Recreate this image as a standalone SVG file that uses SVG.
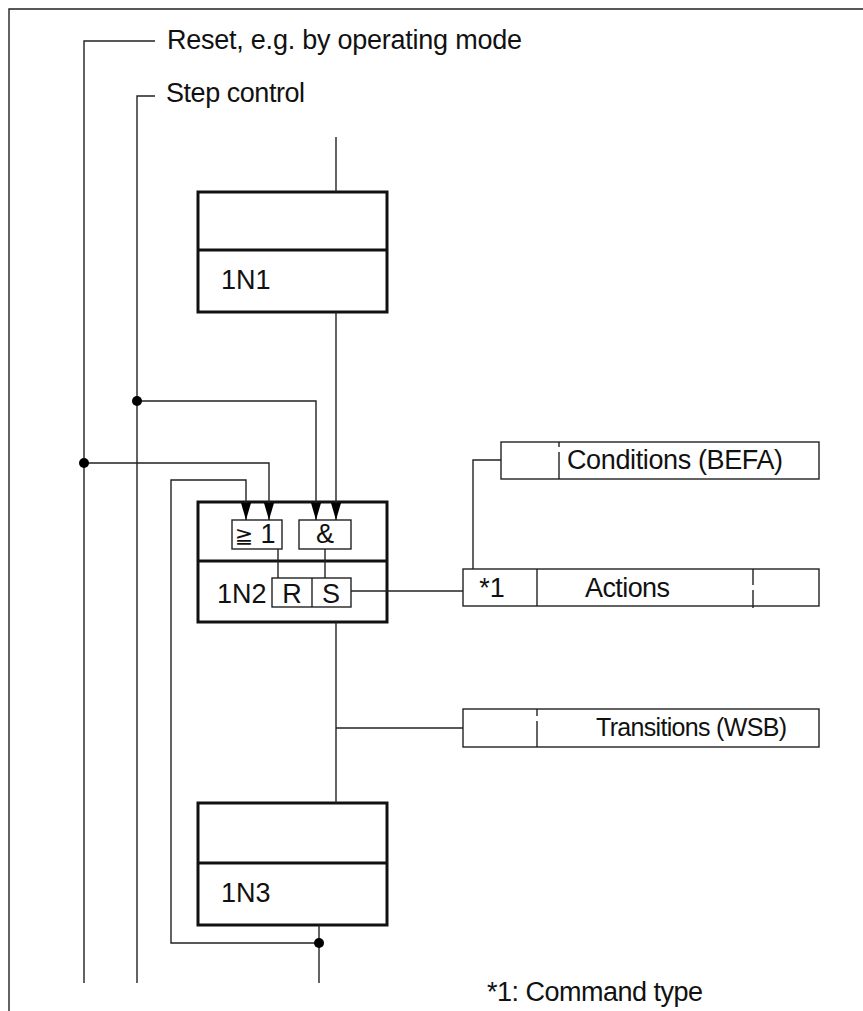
<svg xmlns="http://www.w3.org/2000/svg" width="863" height="1011" viewBox="0 0 863 1011">
<defs>
<style>
.t{font-family:"Liberation Sans",Arial,sans-serif;font-size:27px;fill:#111}
.c{fill:none;stroke:#222;stroke-width:1.4}
.step{fill:#fff;stroke:#111;stroke-width:3}
.sub{fill:#fff;stroke:#222;stroke-width:1.4}
.dot{fill:#000}
</style>
<marker id="ar" markerUnits="userSpaceOnUse" markerWidth="18" markerHeight="10" refX="17" refY="5" orient="auto" viewBox="0 0 17 10">
<path d="M0,0 L17,5 L0,10 Z" fill="#000"/>
</marker>
</defs>
<rect width="863" height="1011" fill="#fff"/>
<g id="frame" class="c">
<path d="M9,1011 V9 H863"/>
</g>
<g id="labels">
<text class="t" x="167" y="49" textLength="355">Reset, e.g. by operating mode</text>
<text class="t" x="166" y="102" textLength="139">Step control</text>
<text class="t" x="487" y="1001" textLength="216">*1: Command type</text>
</g>
<g id="step1N1">
<rect class="step" x="198" y="192" width="189" height="120"/>
<line x1="198" y1="250" x2="387" y2="250" stroke="#111" stroke-width="3"/>
<text class="t" x="221" y="289">1N1</text>
</g>
<g id="step1N2">
<rect class="step" x="198" y="502" width="189" height="120"/>
<line x1="198" y1="561" x2="387" y2="561" stroke="#111" stroke-width="3"/>
<text class="t" x="217" y="603">1N2</text>
</g>
<g id="step1N3">
<rect class="step" x="198" y="803" width="189" height="122"/>
<line x1="198" y1="863" x2="387" y2="863" stroke="#111" stroke-width="3"/>
<text class="t" x="221" y="902">1N3</text>
</g>
<g id="or">
<rect class="sub" x="232" y="520" width="50" height="29"/>
<text x="244" y="543" text-anchor="middle" style="font-family:'DejaVu Sans',sans-serif;font-size:22px;fill:#111">≧</text>
<text class="t" x="268" y="543" text-anchor="middle">1</text>
</g>
<g id="and">
<rect class="sub" x="299" y="520" width="52" height="29"/>
<text class="t" x="325" y="543" text-anchor="middle">&amp;</text>
</g>
<g id="rs">
<rect class="sub" x="272" y="578" width="79" height="29"/>
<line class="c" x1="312" y1="578" x2="312" y2="607"/>
<text class="t" x="292" y="603" text-anchor="middle">R</text>
<text class="t" x="331" y="603" text-anchor="middle">S</text>
</g>
<g id="conditions">
<rect class="sub" x="501" y="442" width="318" height="37"/>
<path class="c" d="M559,442 V447 M559,452 V479"/>
<text class="t" x="567" y="469" textLength="216">Conditions (BEFA)</text>
</g>
<g id="actions">
<rect class="sub" x="463" y="569" width="356" height="37"/>
<line class="c" x1="537" y1="569" x2="537" y2="606"/>
<path class="c" d="M753,569 V585 M753,590 V608"/>
<text class="t" x="492" y="597" text-anchor="middle">*1</text>
<text class="t" x="585" y="597" textLength="85">Actions</text>
</g>
<g id="transitions">
<rect class="sub" x="463" y="709" width="356" height="38"/>
<path class="c" d="M537,709 V716 M537,721 V747"/>
<text class="t" x="596" y="736" style="font-size:25px" textLength="191">Transitions (WSB)</text>
</g>
<g id="connectors" class="c">
<path d="M155,41 H84 V983"/>
<path d="M155,96 H137 V983"/>
<path d="M336,137 V192"/>
<path d="M336,312 V520" marker-end="url(#ar)"/>
<path d="M137,401 H316 V520" marker-end="url(#ar)"/>
<path d="M84,463 H269 V520" marker-end="url(#ar)"/>
<path d="M319,925 V983"/>
<path d="M319,943 H171 V480 H246 V520" marker-end="url(#ar)"/>
<path d="M278,549 V578"/>
<path d="M325,549 V578"/>
<path d="M351,591 H463"/>
<path d="M501,460 H473 V569"/>
<path d="M336,622 V803"/>
<path d="M336,728 H463"/>
<circle class="dot" cx="137" cy="401" r="5" stroke="none"/>
<circle class="dot" cx="84" cy="463" r="5" stroke="none"/>
<circle class="dot" cx="319" cy="943" r="5" stroke="none"/>
</g>
</svg>
